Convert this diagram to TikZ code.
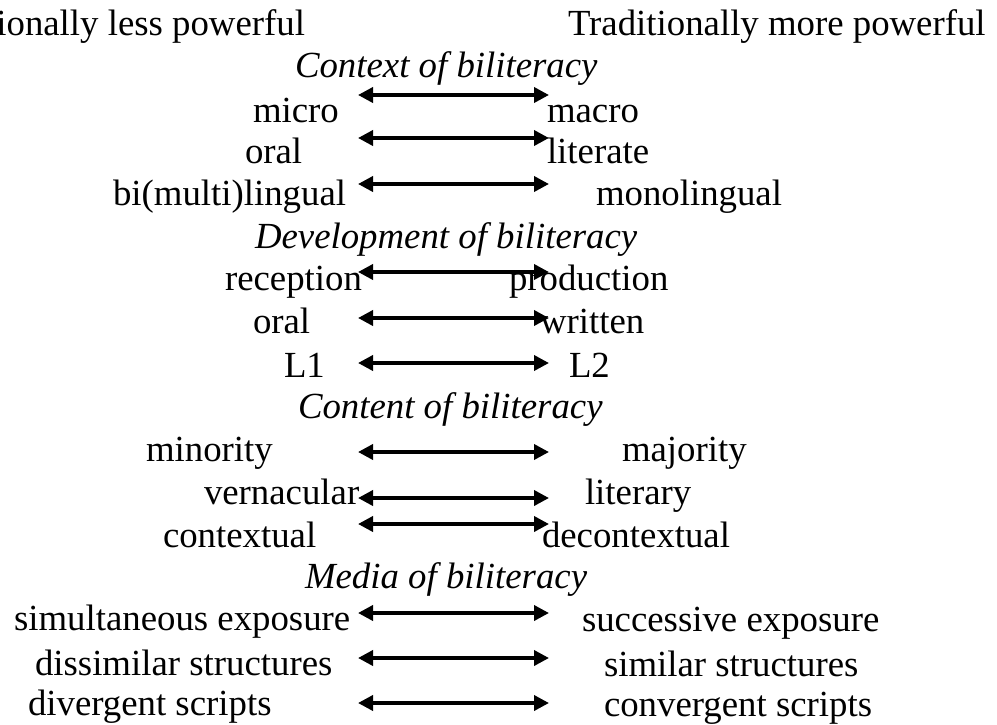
\documentclass[tikz,border=0pt]{standalone}
\usepackage{fontspec}
\setmainfont{Liberation Serif}
\usetikzlibrary{arrows.meta}
\begin{document}
\begin{tikzpicture}[x=1pt,y=-1pt,
  lbl/.style={inner sep=0pt, outer sep=0pt, font=\fontsize{36.8}{40}\selectfont, anchor=base west},
  lble/.style={lbl, anchor=base east},
  hdr/.style={lbl, font=\fontsize{36.8}{40}\selectfont\itshape},
  biarrow/.style={line width=3.6pt, {Triangle[length=15pt,width=15pt]}-{Triangle[length=15pt,width=15pt]}}]
\useasboundingbox (0,0) rectangle (997,724);
\fill[white] (0,0) rectangle (997,724);
% top labels
\node[lble] (less) at (305,35) {Traditionally less powerful};
\node[lbl] (more) at (568,35) {Traditionally more powerful};
% Context
\node[hdr] (hctx) at (295,77) {Context of biliteracy};
\node[lbl] (micro) at (253,122) {micro};
\node[lbl] (macro) at (547,122) {macro};
\node[lbl] (oral1) at (245,163) {oral};
\node[lbl] (literate) at (547,163) {literate};
\node[lbl] (bimulti) at (113,205) {bi(multi)lingual};
\node[lbl] (mono) at (596,205) {monolingual};
% Development
\node[hdr] (hdev) at (255,248) {Development of biliteracy};
\node[lbl] (recep) at (225,290) {reception};
\node[lbl] (prod) at (509,290) {production};
\node[lbl] (oral2) at (253,333) {oral};
\node[lbl] (written) at (540,333) {written};
\node[lbl] (Lone) at (284,377) {L1};
\node[lbl] (Ltwo) at (569,377) {L2};
% Content
\node[hdr] (hcon) at (298,418) {Content of biliteracy};
\node[lbl] (minor) at (146,461) {minority};
\node[lbl] (major) at (622,461) {majority};
\node[lbl] (vern) at (204,504) {vernacular};
\node[lbl] (liter) at (585,504) {literary};
\node[lbl] (cont) at (163,547) {contextual};
\node[lbl] (decont) at (542,547) {decontextual};
% Media
\node[hdr] (hmed) at (305,588) {Media of biliteracy};
\node[lbl] (simul) at (14,630) {simultaneous exposure};
\node[lbl] (succ) at (582,631) {successive exposure};
\node[lbl] (dissim) at (35,675) {dissimilar structures};
\node[lbl] (sim) at (604,676) {similar structures};
\node[lbl] (diverg) at (28,715) {divergent scripts};
\node[lbl] (converg) at (604,716) {convergent scripts};
% arrow end points
\foreach \n/\y in {1/95,2/138,3/184,4/272,5/318,6/363,7/452,8/498,9/524,10/613,11/658,12/703}{
  \coordinate (l\n) at (358,\y);
  \coordinate (r\n) at (549,\y);
  \draw[biarrow] (l\n) -- (r\n);
}
\end{tikzpicture}
\end{document}
